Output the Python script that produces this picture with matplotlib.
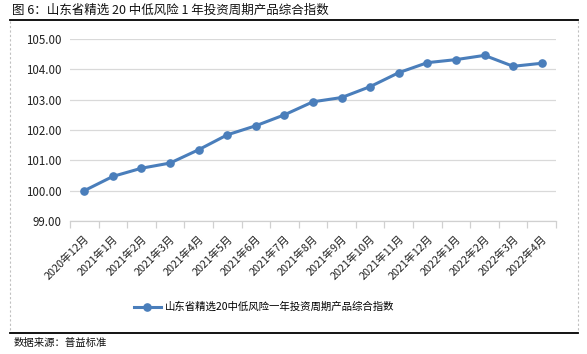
import matplotlib
matplotlib.use("Agg")
import matplotlib.pyplot as plt
from matplotlib.lines import Line2D

plt.rcParams['font.family'] = ['Noto Sans CJK SC', 'DejaVu Sans']

categories = ["2020年12月", "2021年1月", "2021年2月", "2021年3月", "2021年4月",
              "2021年5月", "2021年6月", "2021年7月", "2021年8月", "2021年9月",
              "2021年10月", "2021年11月", "2021年12月", "2022年1月", "2022年2月",
              "2022年3月", "2022年4月"]
values = [100.00, 100.47, 100.74, 100.91, 101.35, 101.84, 102.14, 102.50, 102.93,
          103.07, 103.43, 103.89, 104.22, 104.32, 104.46, 104.10, 104.20]
series_name = "山东省精选20中低风险一年投资周期产品综合指数"
title = "图 6：山东省精选 20 中低风险 1 年投资周期产品综合指数"
source = "数据来源：普益标准"
yticks = [99, 100, 101, 102, 103, 104, 105]

W, H = 587, 354
fig = plt.figure(figsize=(W / 100, H / 100), dpi=100)
ax = fig.add_axes([70 / W, 1 - 221 / H, (556 - 70) / W, (221 - 39) / H])

color = "#4a7ebb"
x = list(range(len(categories)))
ax.plot(x, values, color=color, lw=2.2, marker='o', ms=5.2, label=series_name, zorder=3)

ax.set_xlim(-0.5, len(categories) - 0.5)
ax.set_ylim(99, 105)
ax.set_yticks(yticks)
ax.set_yticklabels([f"{v:.2f}" for v in yticks], fontsize=8.3, color="#222222")
ax.grid(axis='y', color="#d9d9d9", lw=0.9)
ax.set_axisbelow(True)
for s in ['top', 'right', 'left']:
    ax.spines[s].set_visible(False)
ax.spines['bottom'].set_color("#d0d0d0")
ax.spines['bottom'].set_linewidth(0.9)
ax.tick_params(axis='y', length=0, pad=6)

# category ticks at boundaries
ax.set_xticks([i - 0.5 for i in range(len(categories) + 1)], minor=False)
ax.set_xticklabels([])
ax.tick_params(axis='x', which='major', length=5, color="#d0d0d0", width=0.9, direction='out')
ax.set_xticks(x, minor=True)
ax.set_xticklabels(categories, minor=True, rotation=45, ha='right',
                   rotation_mode='anchor', fontsize=7.8, color="#222222")
ax.tick_params(axis='x', which='minor', length=0, pad=9)

leg = fig.legend(loc='center', bbox_to_anchor=(0.45, 1 - 307 / H), frameon=False,
                 fontsize=7.5, handlelength=2.6, handletextpad=0.4)

fig.text(12 / W, 1 - 10 / H, title, fontsize=9, va='center', ha='left', color="#111111")
fig.text(14 / W, 1 - 343 / H, source, fontsize=7.5, va='center', ha='left', color="#111111")

# frame lines
fig.add_artist(Line2D([10 / W, 578 / W], [1 - 20 / H, 1 - 20 / H], color='black', lw=1.3))
fig.add_artist(Line2D([10 / W, 578 / W], [1 - 333 / H, 1 - 333 / H], color='black', lw=1.3))
for xx in (10, 578):
    fig.add_artist(Line2D([xx / W, xx / W], [1 - 21 / H, 1 - 332 / H], color='#c0c0c0',
                          lw=0.8, ls=(0, (2, 2))))

fig.savefig("out.png", dpi=100)
